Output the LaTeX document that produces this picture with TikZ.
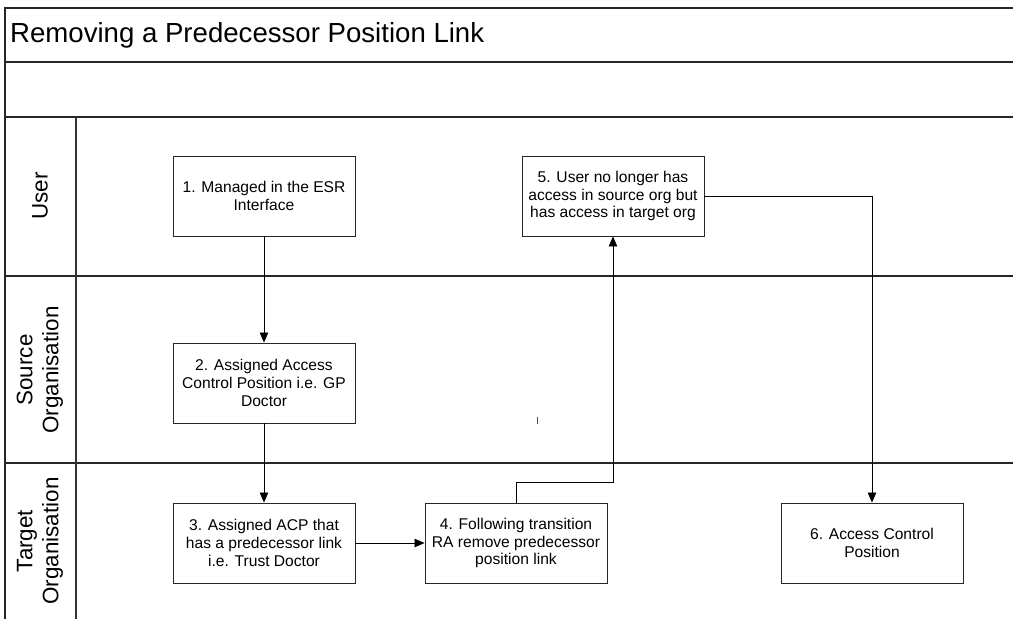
\documentclass[tikz,border=0pt]{standalone}
\usepackage{fontspec}
\setmainfont{Liberation Sans}
\usetikzlibrary{arrows.meta}
\begin{document}
\begin{tikzpicture}[x=1pt,y=-1pt,
  frameline/.style={draw=black!85,line width=1.6pt},
  stepbox/.style={draw=black!85,line width=0.9pt,minimum width=182pt,minimum height=80pt,
    inner sep=0pt,align=center,font=\fontsize{15.6}{17.7}\selectfont},
  lanelabel/.style={rotate=90,align=center,font=\fontsize{22.4}{26}\selectfont},
  flow/.style={draw=black,line width=0.8pt,-{Triangle[length=10pt,width=8.5pt]}}]
\useasboundingbox (0,0) rectangle (1013,619);
% swimlane frame
\draw[frameline] (1013,8) -- (5,8) -- (5,619);
\draw[frameline] (5,62) -- (1013,62);
\draw[frameline] (5,117) -- (1013,117);
\draw[frameline] (5,276) -- (1013,276);
\draw[frameline] (5,463) -- (1013,463);
\draw[draw=black!80,line width=1.2pt] (76,117) -- (76,619);
% title and lane labels
\node[anchor=west,font=\fontsize{27.6}{30}\selectfont,inner sep=0pt] (title) at (10,35) {Removing a Predecessor Position Link};
\node[lanelabel] (laneuser) at (40,196) {User};
\node[lanelabel] (lanesrc) at (40,370) {Source\\Organisation};
\node[lanelabel] (lanetgt) at (40,541) {Target\\Organisation};
% process steps
\node[stepbox] (b1) at (264,196) {1. Managed in the ESR\\Interface};
\node[stepbox] (b2) at (264,383) {2. Assigned Access\\Control Position i.e. GP\\Doctor};
\node[stepbox] (b3) at (264,543) {3. Assigned ACP that\\has a predecessor link\\i.e. Trust Doctor};
\node[stepbox] (b4) at (516,543) {4. Following transition\\RA remove predecessor\\position link};
\node[stepbox] (b5) at (613,196) {5. User no longer has\\access in source org but\\has access in target org};
\node[stepbox] (b6) at (872,543) {6. Access Control\\Position};
% connectors
\draw[flow] (b1) -- (b2);
\draw[flow] (b2) -- (b3);
\draw[flow] (b3) -- (b4);
\draw[flow] (b4.north) -- ++(0,-20) -| (b5.south);
\draw[flow] (b5.east) -| (b6.north);
% stray mark
\coordinate (mk) at (537,417);
\draw[black!70,line width=0.8pt] (mk) -- ++(0,7);
\end{tikzpicture}
\end{document}
